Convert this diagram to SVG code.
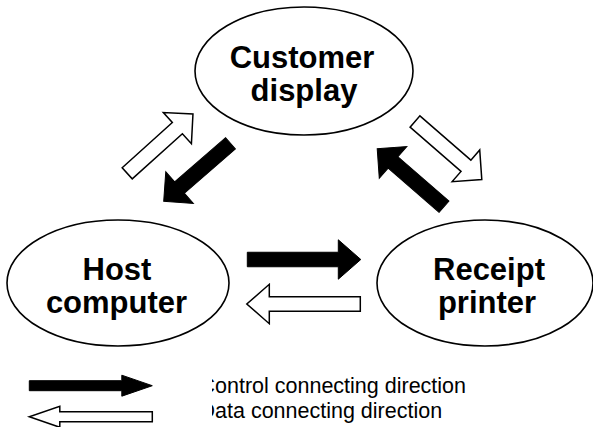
<svg xmlns="http://www.w3.org/2000/svg" xmlns:xlink="http://www.w3.org/1999/xlink" width="593" height="427" viewBox="0 0 593 427">
<style>
.node{fill:#fff;stroke:#000;stroke-width:1.6}
.lbl{font-family:"Liberation Sans",Arial,sans-serif;font-weight:bold;font-size:31px;fill:#000;text-anchor:middle}
.leg{font-family:"Liberation Sans",Arial,sans-serif;font-size:21.5px;fill:#000}
.ctrl{fill:#000;stroke:#000;stroke-width:1}
.data{fill:#fff;stroke:#000;stroke-width:1.5;stroke-linejoin:miter}
</style>
<defs>
<path id="diag" d="M0,-7.5 H67.5 V-21 L88.5,0 L67.5,21 V7.5 H0 Z"/>
<path id="horiz" d="M0,-7.25 H91 V-19.7 L113.5,0 L91,19.7 V7.25 H0 Z"/>
<path id="legarrow" d="M0,-5 H92.5 V-10.5 L123,0 L92.5,10.5 V5 H0 Z"/>
<clipPath id="legclip"><rect x="212" y="360" width="381" height="67"/></clipPath>
</defs>
<rect width="593" height="427" fill="#fff"/>
<g id="node-customer-display">
<ellipse class="node" cx="304" cy="71" rx="109" ry="64"/>
<text class="lbl" x="302" y="68">Customer</text>
<text class="lbl" x="304" y="101">display</text>
</g>
<g id="node-host-computer">
<ellipse class="node" cx="118" cy="283" rx="111" ry="63"/>
<text class="lbl" x="117" y="280">Host</text>
<text class="lbl" x="116.5" y="313">computer</text>
</g>
<g id="node-receipt-printer">
<ellipse class="node" cx="485" cy="283" rx="108" ry="63"/>
<text class="lbl" x="489" y="280">Receipt</text>
<text class="lbl" x="487" y="313">printer</text>
</g>
<g id="connectors">
<use xlink:href="#diag" class="data" transform="translate(127.2,173.3) rotate(-42)"/>
<use xlink:href="#diag" class="ctrl" transform="translate(230.5,143.3) rotate(139)"/>
<use xlink:href="#diag" class="data" transform="translate(415,121.5) rotate(41)"/>
<use xlink:href="#diag" class="ctrl" transform="translate(444,206.7) rotate(-139)"/>
<use xlink:href="#horiz" class="ctrl" transform="translate(247.3,259.5)"/>
<use xlink:href="#horiz" class="data" transform="translate(360.3,304) rotate(180)"/>
</g>
<g id="legend">
<use xlink:href="#legarrow" class="ctrl" transform="translate(29.3,385.7)"/>
<use xlink:href="#legarrow" class="data" transform="translate(152.3,416.8) rotate(180)"/>
<g clip-path="url(#legclip)">
<text class="leg" x="199.5" y="393">Control connecting direction</text>
<text class="leg" x="199.5" y="418">Data connecting direction</text>
</g>
</g>
</svg>
